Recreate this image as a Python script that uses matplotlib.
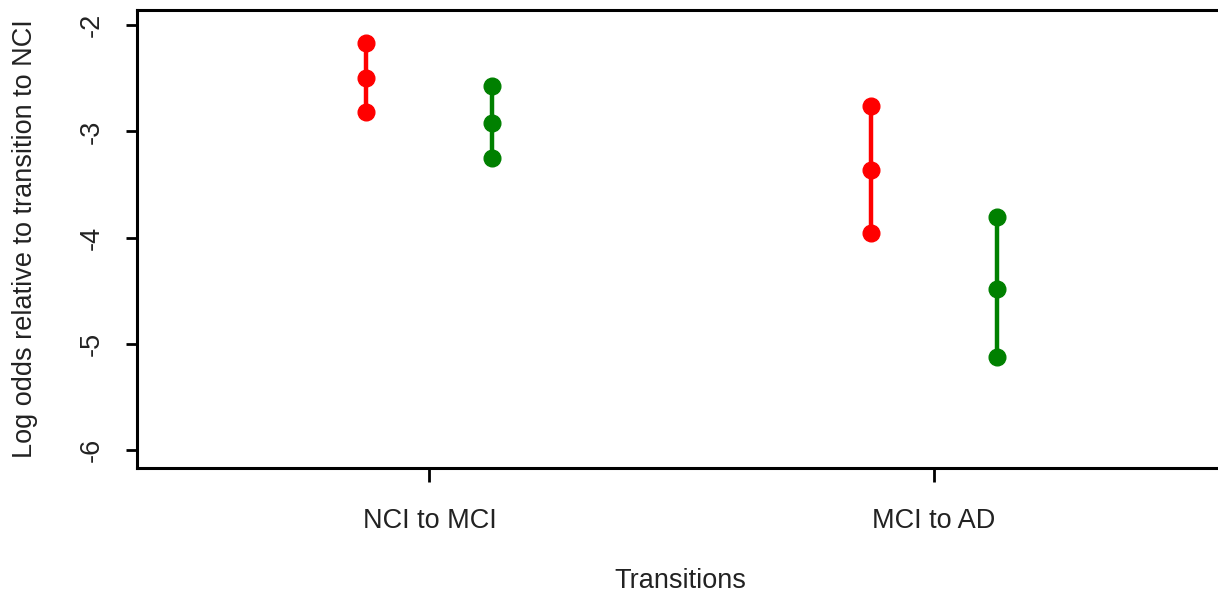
import matplotlib
matplotlib.use("Agg")
import matplotlib.pyplot as plt

plt.rcParams["font.family"] = ["Liberation Sans", "DejaVu Sans"]

transitions = ["NCI to MCI", "MCI to AD"]
# lower, estimate, upper for each group
red_low = [-2.82, -3.96]
red_mid = [-2.50, -3.36]
red_high = [-2.17, -2.76]
green_low = [-3.25, -5.12]
green_mid = [-2.92, -4.48]
green_high = [-2.57, -3.81]
yticks = [-6, -5, -4, -3, -2]

fig = plt.figure(figsize=(12.18, 5.99), dpi=100)
ax = fig.add_axes([0.1125, 0.219, 0.894, 0.764])

pos = [1, 2]
off = 0.125
for i, p in enumerate(pos):
    for x, lo, mid, hi, col in [(p - off, red_low[i], red_mid[i], red_high[i], "#ff0000"),
                                (p + off, green_low[i], green_mid[i], green_high[i], "#008000")]:
        ax.plot([x, x, x], [lo, mid, hi], color=col, lw=3.2, marker="o",
                markersize=12, solid_capstyle="butt")

fs = 19.5
ax.set_xlim(0.42, 2.58)
ax.set_ylim(-6.167, -1.86)
ax.set_xticks(pos)
ax.set_xticklabels(transitions, fontsize=fs, color="#222222")
ax.set_yticks(yticks)
ax.set_yticklabels([str(v) for v in yticks], fontsize=fs, rotation=90,
                   va="center", color="#222222")
ax.tick_params(axis="y", length=8, width=2, pad=15)
ax.tick_params(axis="x", length=10, width=2, pad=19)
for s in ax.spines.values():
    s.set_linewidth(2.2)

ax.set_xlabel("Transitions", fontsize=fs, color="#222222")
ax.xaxis.set_label_coords(0.4986, -0.2476)
ax.set_ylabel("Log odds relative to transition to NCI", fontsize=fs, color="#222222")
ax.yaxis.set_label_coords(-0.103, 0.5)
ax.xaxis.label.set_va("center")
ax.yaxis.label.set_va("center")

fig.savefig("out.png", dpi=100)
